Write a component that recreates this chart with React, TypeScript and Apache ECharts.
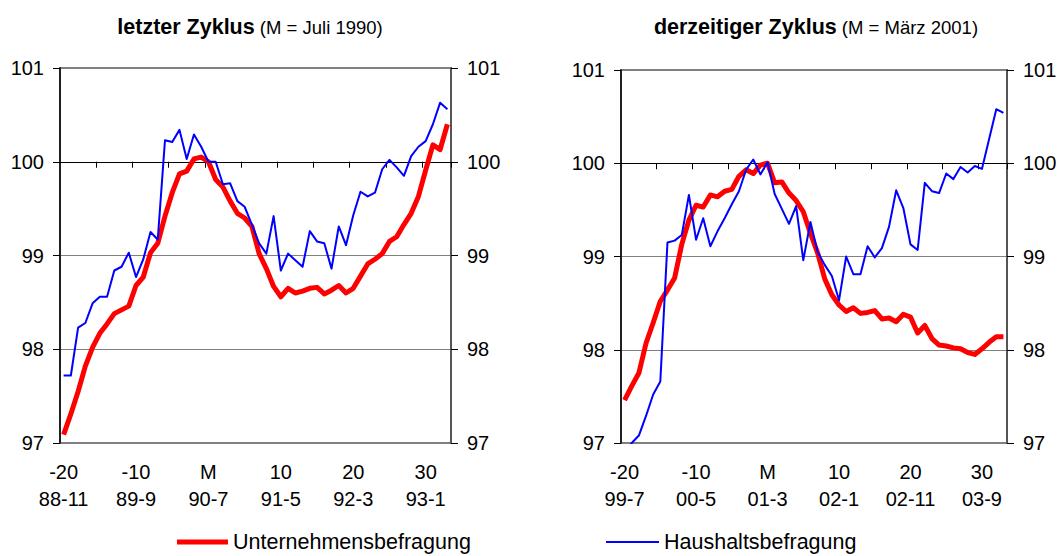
import React, { useEffect, useRef } from 'react';
import * as echarts from 'echarts';

// months relative to the cycle peak M
const months = [
  -20, -19, -18, -17, -16, -15, -14, -13, -12, -11,
  -10, -9, -8, -7, -6, -5, -4, -3, -2, -1,
  0, 1, 2, 3, 4, 5, 6, 7, 8, 9,
  10, 11, 12, 13, 14, 15, 16, 17, 18, 19,
  20, 21, 22, 23, 24, 25, 26, 27, 28, 29,
  30, 31, 32, 33,
];
const labelMonths = [-20, -10, 0, 10, 20, 30];
const datesLast = ['88-11', '89-9', '90-7', '91-5', '92-3', '93-1'];
const datesCurrent = ['99-7', '00-5', '01-3', '02-1', '02-11', '03-9'];

const yMin = 97;
const yMax = 101;

const seriesCompany = 'Unternehmensbefragung';
const seriesHousehold = 'Haushaltsbefragung';

const titleLast = 'letzter Zyklus';
const subLast = '(M = Juli 1990)';
const titleCurrent = 'derzeitiger Zyklus';
const subCurrent = '(M = März 2001)';

// letzter Zyklus
const lastCompany = [
  97.09, 97.31, 97.55, 97.82, 98.02, 98.17, 98.27, 98.38, 98.42, 98.46,
  98.68, 98.77, 99.03, 99.13, 99.42, 99.67, 99.87, 99.9, 100.03, 100.05,
  100.0, 99.81, 99.73, 99.58, 99.45, 99.4, 99.31, 99.02, 98.86, 98.67,
  98.56, 98.65, 98.6, 98.62, 98.65, 98.66, 98.59, 98.63, 98.68, 98.6,
  98.65, 98.78, 98.91, 98.96, 99.02, 99.15, 99.2, 99.33, 99.45, 99.63,
  99.91, 100.18, 100.13, 100.4,
];
const lastHousehold = [
  97.72, 97.72, 98.23, 98.28, 98.49, 98.56, 98.56, 98.84, 98.88, 99.03,
  98.77, 98.96, 99.25, 99.17, 100.23, 100.21, 100.34, 100.03, 100.29, 100.16,
  100.0, 100.0, 99.76, 99.77, 99.58, 99.52, 99.33, 99.13, 99.02, 99.42,
  98.84, 99.02, 98.95, 98.88, 99.26, 99.15, 99.13, 98.86, 99.31, 99.11,
  99.43, 99.68, 99.63, 99.67, 99.92, 100.02, 99.94, 99.85, 100.06, 100.16,
  100.22, 100.4, 100.63, 100.56,
];

// derzeitiger Zyklus
const currentCompany = [
  97.46, 97.61, 97.75, 98.07, 98.29, 98.52, 98.64, 98.77, 99.13, 99.39,
  99.55, 99.53, 99.66, 99.64, 99.7, 99.72, 99.86, 99.93, 99.89, 99.98,
  100.0, 99.79, 99.8, 99.68, 99.6, 99.48, 99.25, 99.04, 98.76, 98.59,
  98.48, 98.41, 98.45, 98.39, 98.4, 98.42, 98.33, 98.34, 98.3, 98.38,
  98.35, 98.18, 98.26, 98.12, 98.05, 98.04, 98.02, 98.01, 97.97, 97.95,
  98.01, 98.08, 98.14, 98.14,
];
const currentHousehold = [
  96.9, 97.0, 97.08, 97.29, 97.52, 97.66, 99.15, 99.17, 99.23, 99.66,
  99.18, 99.41, 99.11, 99.27, 99.41, 99.56, 99.7, 99.93, 100.04, 99.88,
  100.01, 99.67, 99.51, 99.35, 99.54, 98.96, 99.37, 99.05, 98.91, 98.79,
  98.53, 99.0, 98.81, 98.81, 99.11, 98.99, 99.09, 99.32, 99.71, 99.52,
  99.13, 99.07, 99.79, 99.7, 99.68, 99.89, 99.83, 99.96, 99.9, 99.97,
  99.94, 100.26, 100.58, 100.54,
];

const FONT = '"Liberation Sans", Arial, Helvetica, sans-serif';
const RED = '#ff0000';
const BLUE = '#0000ff';

const panels = [
  { grid: { left: 60, top: 68, width: 391, height: 375 }, dates: datesLast, company: lastCompany, household: lastHousehold, title: titleLast, sub: subLast, titleX: 250 },
  { grid: { left: 621, top: 70, width: 386, height: 373 }, dates: datesCurrent, company: currentCompany, household: currentHousehold, title: titleCurrent, sub: subCurrent, titleX: 816 },
];

function buildOption() {
  const cats = months.map(String);
  const grids: any[] = [];
  const xAxes: any[] = [];
  const yAxes: any[] = [];
  const series: any[] = [];
  const graphics: any[] = [];

  panels.forEach((p, g) => {
    grids.push({
      ...p.grid,
      show: true,
      borderColor: '#808080',
      borderWidth: 2,
      backgroundColor: 'transparent',
      containLabel: false,
      outerBoundsMode: 'none',
    });
    // label axis at the bottom
    xAxes.push({
      type: 'category',
      gridIndex: g,
      data: cats,
      boundaryGap: true,
      position: 'bottom',
      axisLine: { show: false, onZero: false },
      axisTick: { show: false },
      splitLine: { show: false },
      axisLabel: {
        interval: (idx: number) => labelMonths.includes(months[idx]),
        formatter: (v: string) => {
          const m = Number(v);
          const k = labelMonths.indexOf(m);
          return (m === 0 ? 'M' : String(m)) + '\n' + p.dates[k];
        },
        fontSize: 20,
        lineHeight: 27,
        color: '#000',
        fontFamily: FONT,
        margin: 15,
      },
    });
    // axis line crossing at 100
    xAxes.push({
      type: 'category',
      gridIndex: g,
      data: cats,
      boundaryGap: true,
      position: 'bottom',
      axisLine: { show: true, onZero: true, onZeroAxisIndex: 3 * g + 2, lineStyle: { color: '#000', width: 1 } },
      axisTick: {
        show: true,
        interval: (idx: number) => idx > 0 && idx % 5 === 0,
        length: 6,
        lineStyle: { color: '#000', width: 1 },
      },
      axisLabel: { show: false },
      splitLine: { show: false },
    });
    const yLabel = { fontSize: 20, color: '#000', fontFamily: FONT, margin: 16 };
    yAxes.push({
      type: 'value',
      gridIndex: g,
      position: 'left',
      min: yMin,
      max: yMax,
      interval: 1,
      axisLine: { show: true, onZero: false, lineStyle: { color: '#000', width: 1.5 } },
      axisTick: { show: true, length: 7, lineStyle: { color: '#000', width: 1 } },
      axisLabel: yLabel,
      splitLine: {
        show: true,
        lineStyle: { color: ['#808080', '#808080', '#808080', '#000000', '#808080'], width: 1 },
      },
    });
    yAxes.push({
      type: 'value',
      gridIndex: g,
      position: 'right',
      min: yMin,
      max: yMax,
      interval: 1,
      axisLine: { show: true, onZero: false, lineStyle: { color: '#555', width: 2 } },
      axisTick: { show: true, length: 7, lineStyle: { color: '#000', width: 1 } },
      axisLabel: yLabel,
      splitLine: { show: false },
    });
    // helper axis, zero at 100 on the main axis
    yAxes.push({
      type: 'value',
      gridIndex: g,
      show: false,
      min: yMin - 100,
      max: yMax - 100,
    });
    series.push({
      type: 'line',
      name: seriesCompany,
      xAxisIndex: 2 * g,
      yAxisIndex: 3 * g,
      data: p.company,
      symbol: 'none',
      color: RED,
      lineStyle: { color: RED, width: 5, join: 'round' },
      z: 4,
      clip: true,
    });
    series.push({
      type: 'line',
      name: seriesHousehold,
      xAxisIndex: 2 * g,
      yAxisIndex: 3 * g,
      data: p.household,
      symbol: 'none',
      color: BLUE,
      lineStyle: { color: BLUE, width: 2, join: 'round' },
      z: 5,
      clip: true,
    });
    graphics.push({
      type: 'text',
      x: p.titleX,
      y: 27,
      style: {
        text: `{b|${p.title}} {n|${p.sub}}`,
        fontSize: 18.5,
        fontFamily: FONT,
        fill: '#000',
        align: 'center',
        verticalAlign: 'middle',
        rich: {
          b: { fontSize: 21.5, fontWeight: 'bold', fontFamily: FONT, fill: '#000' },
          n: { fontSize: 18.5, fontFamily: FONT, fill: '#000' },
        },
      },
    });
  });

  const legendText = { fontSize: 21.5, color: '#000', fontFamily: FONT, lineHeight: 22 };
  return {
    animation: false,
    backgroundColor: '#ffffff',
    grid: grids,
    xAxis: xAxes,
    yAxis: yAxes,
    series,
    graphic: graphics,
    legend: [
      {
        data: [seriesCompany],
        left: 177,
        top: 531,
        padding: 0,
        icon: 'rect',
        itemWidth: 51,
        itemHeight: 5,
        selectedMode: false,
        textStyle: legendText,
      },
      {
        data: [seriesHousehold],
        left: 606,
        top: 531,
        padding: 0,
        icon: 'rect',
        itemWidth: 53,
        itemHeight: 2,
        selectedMode: false,
        textStyle: legendText,
      },
    ],
  };
}

export default function App() {
  const ref = useRef<HTMLDivElement>(null);
  useEffect(() => {
    if (!ref.current) return;
    const chart = echarts.init(ref.current, null, { renderer: 'svg' });
    chart.setOption(buildOption() as any);
    return () => chart.dispose();
  }, []);
  return (
    <div
      ref={ref}
      style={{ position: 'fixed', left: 0, top: 0, width: 1059, height: 556, background: '#fff' }}
    />
  );
}
